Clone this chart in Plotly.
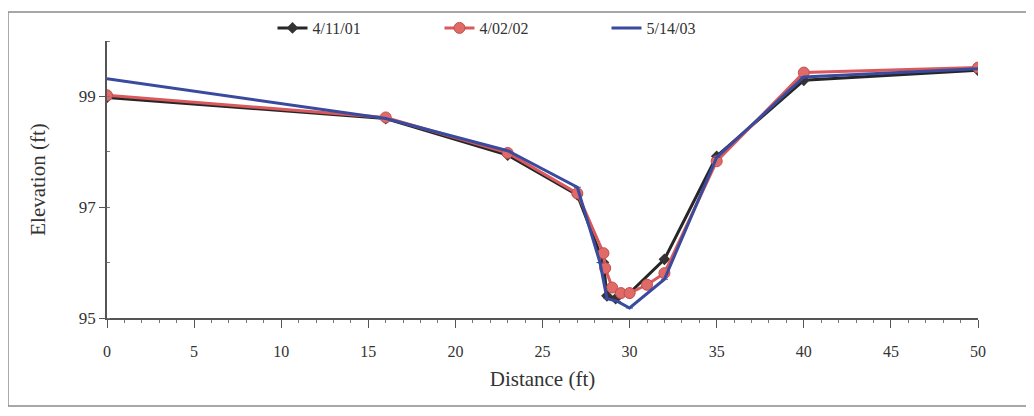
import plotly.graph_objects as go

# Data
series_names = ["4/11/01", "4/02/02", "5/14/03"]

dist_2001 = [0, 16, 23, 27, 28.5, 28.7, 29.2, 30, 32, 35, 40, 50]
elev_2001 = [98.98, 98.60, 97.94, 97.22, 96.00, 95.40, 95.35, 95.45, 96.06, 97.92, 99.29, 99.47]

dist_2002 = [0, 16, 23, 27, 28.5, 28.6, 29, 29.5, 30, 31, 32, 35, 40, 50]
elev_2002 = [99.02, 98.62, 97.98, 97.25, 96.17, 95.90, 95.55, 95.45, 95.45, 95.60, 95.81, 97.83, 99.43, 99.52]

dist_2003 = [0, 16, 23, 27, 28.3, 28.7, 29.3, 30, 32, 35, 40, 50]
elev_2003 = [99.32, 98.60, 98.02, 97.36, 96.00, 95.35, 95.30, 95.18, 95.70, 97.90, 99.35, 99.50]

x_ticks = [0, 5, 10, 15, 20, 25, 30, 35, 40, 45, 50]
y_ticks = [95, 97, 99]

FONT = "Liberation Serif, Times New Roman, serif"

fig = go.Figure()
fig.add_trace(go.Scatter(
    x=dist_2001, y=elev_2001, name=series_names[0], mode="lines+markers",
    line=dict(color="#262626", width=3),
    marker=dict(symbol="diamond", size=9, color="#333333"),
))
fig.add_trace(go.Scatter(
    x=dist_2002, y=elev_2002, name=series_names[1], mode="lines+markers",
    line=dict(color="#d9595c", width=3),
    marker=dict(symbol="circle", size=11, color="#e06a68", line=dict(color="#c0504d", width=1)),
))
fig.add_trace(go.Scatter(
    x=dist_2003, y=elev_2003, name=series_names[2], mode="lines+markers",
    line=dict(color="#3a4a9e", width=3),
    marker=dict(symbol="line-ew", size=5, color="#3a4a9e", line=dict(color="#3a4a9e", width=1)),
))

fig.update_layout(
    width=1026, height=408,
    margin=dict(l=99, r=56, t=33, b=98, autoexpand=False),
    paper_bgcolor="white", plot_bgcolor="white",
    font=dict(family=FONT, color="#333333", size=16),
    showlegend=True,
    legend=dict(
        orientation="h", x=0.19, xanchor="left",
        yref="container", y=0.951, yanchor="middle",
        font=dict(family=FONT, size=16, color="#333333"),
        entrywidth=122, entrywidthmode="pixels",
        bgcolor="rgba(0,0,0,0)",
    ),
    xaxis=dict(
        range=[0, 50], tickvals=x_ticks, ticks="outside", ticklen=8, tickwidth=1,
        tickcolor="#555555", showline=True, linecolor="#555555", linewidth=1.5,
        showgrid=False, zeroline=False, ticklabelstandoff=10,
        minor=dict(dtick=1, ticks="outside", ticklen=3, tickcolor="#777777"),
        title=dict(text="Distance (ft)", font=dict(family=FONT, size=21, color="#333333"), standoff=12),
        tickfont=dict(family=FONT, size=16, color="#333333"),
    ),
    yaxis=dict(
        range=[95, 100], tickvals=y_ticks, ticks="outside", ticklen=6, tickwidth=1,
        tickcolor="#555555", showline=True, linecolor="#555555", linewidth=1.5,
        showgrid=False, zeroline=False,
        minor=dict(dtick=1, ticks="inside", ticklen=3, tickcolor="#777777"),
        title=dict(text="Elevation (ft)", font=dict(family=FONT, size=21, color="#333333"), standoff=27),
        tickfont=dict(family=FONT, size=17, color="#333333"),
    ),
    shapes=[dict(
        type="rect", xref="paper", yref="paper",
        x0=-0.1137, x1=1.0574, y0=-0.3177, y1=1.1047,
        line=dict(color="#8a8a8a", width=1.5), fillcolor="rgba(0,0,0,0)", layer="below",
    )],
)

fig.write_html("out.html")
